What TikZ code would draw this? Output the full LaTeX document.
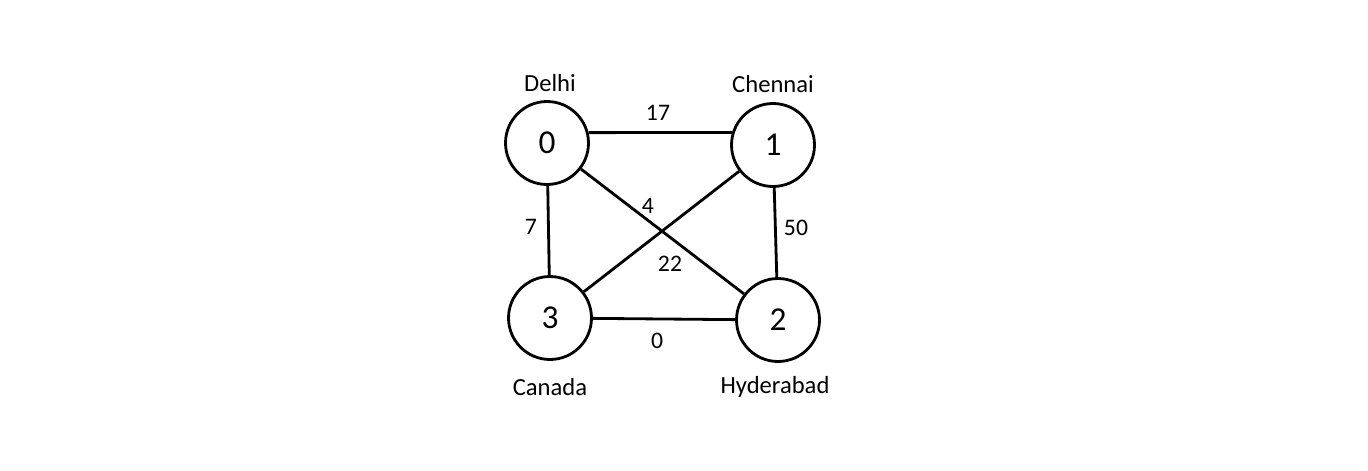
\documentclass[tikz,border=0pt]{standalone}
\usepackage{fontspec}
\setmainfont{Carlito}
\usepackage{tikz}
\tikzset{>=latex}
\tikzset{city/.style={circle, draw=black, line width=1.6pt, minimum size=1.66cm, inner sep=0pt, font=\fontsize{19}{22}\selectfont},
  place/.style={font=\fontsize{14}{16}\selectfont},
  weight/.style={font=\fontsize{13.5}{16}\selectfont},
  road/.style={line width=1.6pt}}

\begin{document}
\begin{tikzpicture}[x=0.02cm, y=-0.02cm]
  % canvas in pixel units
  \useasboundingbox (0,0) rectangle (1368,470);

  % the four cities
  \node[city] (n0) at (547,143) {0};
  \node[city] (n1) at (773,145) {1};
  \node[city] (n2) at (778,320) {2};
  \node[city] (n3) at (550,318) {3};

  % names
  \node[place] (l0) at (550,83)  {Delhi};
  \node[place] (l1) at (773,84)  {Chennai};
  \node[place] (l3) at (550,387) {Canada};
  \node[place] (l2) at (775,387) {Hyderabad};

  % roads
  \draw[road] (n0.14) -- (n1.163);
  \draw[road] (n0) -- (n3);
  \draw[road] (n1) -- (n2);
  \draw[road] (n3) -- (n2);
  \draw[road] (n0) -- (n2);
  \draw[road] (n1) -- (n3);

  % weights
  \node[weight] (w01) at (658,113) {17};
  \node[weight] (w02) at (648,206) {4};
  \node[weight] (w03) at (531,227) {7};
  \node[weight] (w12) at (796,228) {50};
  \node[weight] (w13) at (670,264) {22};
  \node[weight] (w32) at (657,341) {0};
\end{tikzpicture}
\end{document}
